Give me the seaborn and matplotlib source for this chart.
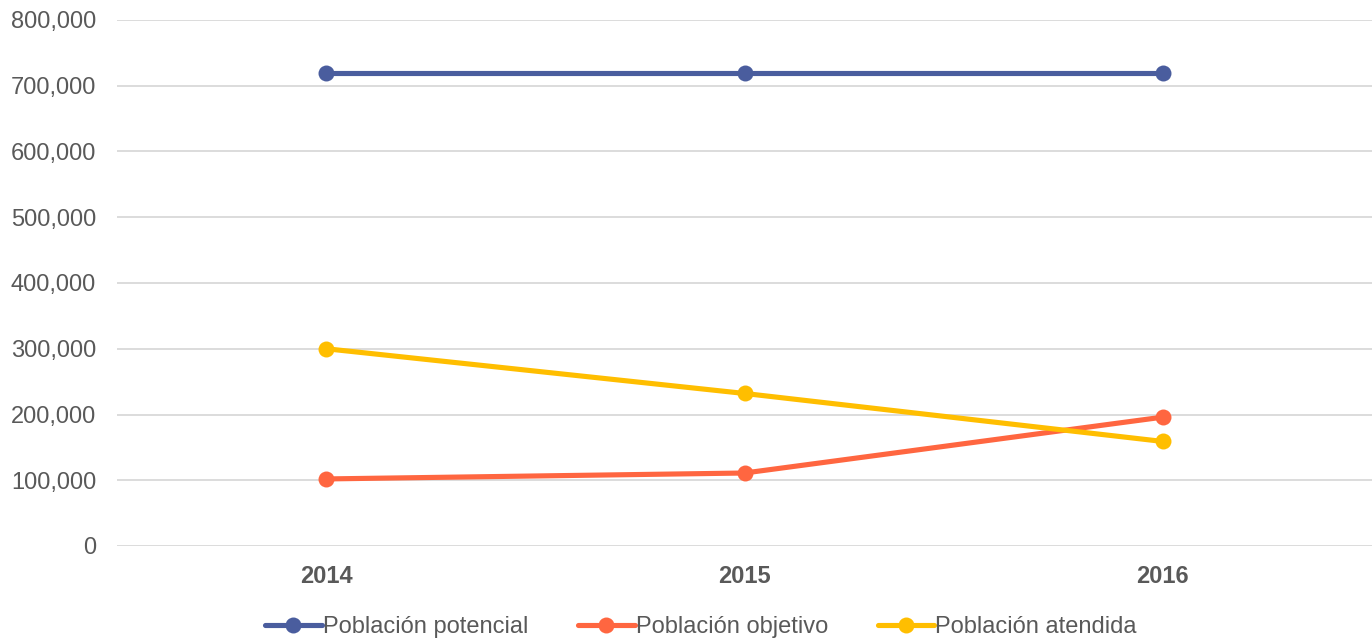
import pandas as pd
import matplotlib.pyplot as plt
import seaborn as sns
from matplotlib.ticker import FuncFormatter

# data
years = ["2014", "2015", "2016"]
potencial = [720000, 720000, 720000]
objetivo = [102000, 111000, 196000]
atendida = [300000, 232000, 159000]
series_names = ["Población potencial", "Población objetivo", "Población atendida"]
colors = ["#4A5D9E", "#FF6640", "#FFBE00"]

df = pd.DataFrame({
    "year": years * 3,
    "value": potencial + objetivo + atendida,
    "serie": [series_names[0]] * 3 + [series_names[1]] * 3 + [series_names[2]] * 3,
})

sns.set_theme(style="white")
plt.rcParams["font.family"] = ["Liberation Sans", "DejaVu Sans"]

fig = plt.figure(figsize=(13.72, 6.39), dpi=100)
ax = fig.add_axes([117 / 1372, 1 - 546 / 639, 1 - 117 / 1372, (546 - 20) / 639])

sns.lineplot(
    data=df, x="year", y="value", hue="serie",
    palette=colors, marker="o", markersize=11.5, markeredgewidth=0,
    linewidth=3.7, ax=ax, legend=True, zorder=3,
)

ax.set_xlim(-0.5, 2.5)
ax.set_ylim(0, 800000)
ax.set_yticks(range(0, 800001, 100000))
ax.yaxis.set_major_formatter(FuncFormatter(lambda v, p: f"{int(v):,}"))
ax.grid(axis="y", color="#D9D9D9", linewidth=1.3)
ax.set_axisbelow(True)
for s in ax.spines.values():
    s.set_visible(False)
ax.tick_params(axis="both", length=0, labelsize=17, labelcolor="#595959")
ax.tick_params(axis="y", pad=15)
ax.tick_params(axis="x", pad=14)
for lab in ax.get_xticklabels():
    lab.set_fontweight("bold")
ax.set_xlabel("")
ax.set_ylabel("")

ax.legend(
    loc="center", bbox_to_anchor=(701 / 1372, 1 - 627 / 639),
    bbox_transform=fig.transFigure, ncol=3, frameon=False,
    fontsize=17, handlelength=2.4, handletextpad=0.05, columnspacing=2.1,
    labelcolor="#595959",
)

fig.savefig("out.png", dpi=100)
